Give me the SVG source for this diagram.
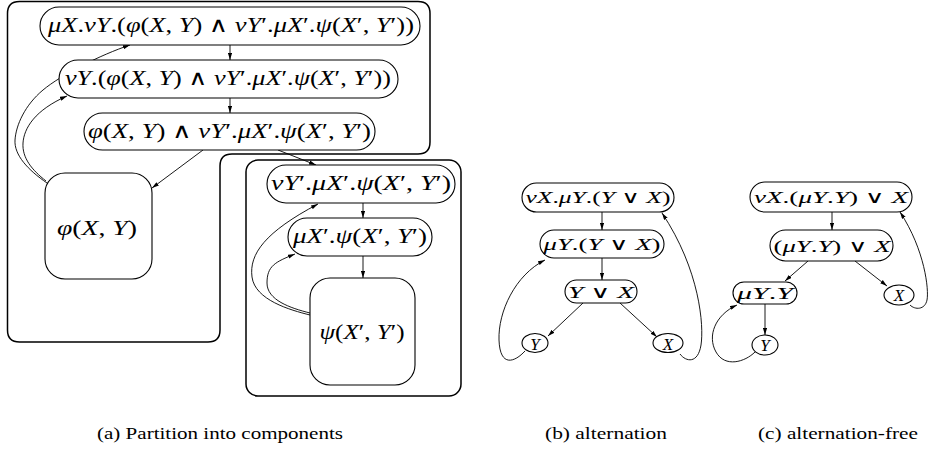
<svg xmlns="http://www.w3.org/2000/svg" width="928" height="455" viewBox="0 0 928 455">
<style>
.bg{fill:#fff}
.comp{fill:none;stroke:#000;stroke-width:1.5}
.nd{fill:#fff;stroke:#000;stroke-width:1.1}
.m{font-family:"Liberation Serif","DejaVu Serif",serif;fill:#000;text-anchor:middle}
.a{font-size:21px}
.b{font-size:17px}
.i{font-style:italic}
.cap{font-family:"Liberation Serif","DejaVu Serif",serif;font-size:17px;fill:#000;text-anchor:middle}
.e{fill:none;stroke:#000;stroke-width:0.9;marker-end:url(#ah)}
</style>
<defs>
<marker id="ah" viewBox="0 0 10 6" refX="10" refY="3" markerWidth="7" markerHeight="4.4" orient="auto" markerUnits="userSpaceOnUse"><path d="M0,0 L10,3 L0,6 z" fill="#000"/></marker>
</defs>
<rect class="bg" x="0" y="0" width="928" height="455"/>
<g id="componentA"><path class="comp" d="M19.5 1.5 H418 Q430 1.5 430 13.5 V142 Q430 154 418 154 H232 Q220 154 220 166 V330 Q220 342 208 342 H19.5 Q7.5 342 7.5 330 V13.5 Q7.5 1.5 19.5 1.5 Z"/></g>
<g id="componentB"><rect class="comp" x="246" y="160" width="215" height="236" rx="12"/></g>
<g id="edges">
<path class="e" d="M230 45 V60"/>
<path class="e" d="M230 98 V113"/>
<path class="e" d="M203 150 L152 188"/>
<path class="e" d="M278 150 L316 165"/>
<path class="e" d="M47 183 C28 170, 14 155, 15 140 S 25 105, 43 90 S 100 55, 130 45"/>
<path class="e" d="M46 181 C32 170, 22 158, 23 143 S 35 110, 67 96"/>
<path class="e" d="M363 203 V218"/>
<path class="e" d="M363 256 V278"/>
<path class="e" d="M310 315 C290 310, 255 300, 252 277 S 265 232, 318 204"/>
<path class="e" d="M310 313 C290 308, 267 300, 267 283 S 275 262, 295 254"/>
<path class="e" d="M602 212 V230"/>
<path class="e" d="M602 258 V280"/>
<path class="e" d="M583 303 L548 336"/>
<path class="e" d="M620 303 L657 337"/>
<path class="e" d="M525 351 C515 362, 500 368, 499 340 S 515 275, 545 260"/>
<path class="e" d="M680 354 C686 362, 698 364, 701 345 S 700 270, 662 213"/>
<path class="e" d="M832 212 V230"/>
<path class="e" d="M808 261 L785 281"/>
<path class="e" d="M855 261 L887 286"/>
<path class="e" d="M765 304 V335"/>
<path class="e" d="M755 352 C745 362, 725 368, 716 352 S 715 315, 737 305"/>
<path class="e" d="M910 305 C915 310, 925 310, 927 300 S 925 250, 900 212"/>
</g>
<g id="a1"><rect class="nd" x="40" y="7" width="380" height="38" rx="19"/><text class="m a" x="231" y="32" textLength="366" lengthAdjust="spacingAndGlyphs"><tspan class="i">μX</tspan>.<tspan class="i">νY</tspan>.(<tspan class="i">φ</tspan>(<tspan class="i">X</tspan>, <tspan class="i">Y</tspan>) ∧ <tspan class="i">νY</tspan>′.<tspan class="i">μX</tspan>′.<tspan class="i">ψ</tspan>(<tspan class="i">X</tspan>′, <tspan class="i">Y</tspan>′))</text></g>
<g id="a2"><rect class="nd" x="59" y="60" width="339" height="38" rx="19"/><text class="m a" x="228" y="85" textLength="326" lengthAdjust="spacingAndGlyphs"><tspan class="i">νY</tspan>.(<tspan class="i">φ</tspan>(<tspan class="i">X</tspan>, <tspan class="i">Y</tspan>) ∧ <tspan class="i">νY</tspan>′.<tspan class="i">μX</tspan>′.<tspan class="i">ψ</tspan>(<tspan class="i">X</tspan>′, <tspan class="i">Y</tspan>′))</text></g>
<g id="a3"><rect class="nd" x="84" y="113" width="291" height="37" rx="18.5"/><text class="m a" x="229.5" y="137.5" textLength="283" lengthAdjust="spacingAndGlyphs"><tspan class="i">φ</tspan>(<tspan class="i">X</tspan>, <tspan class="i">Y</tspan>) ∧ <tspan class="i">νY</tspan>′.<tspan class="i">μX</tspan>′.<tspan class="i">ψ</tspan>(<tspan class="i">X</tspan>′, <tspan class="i">Y</tspan>′)</text></g>
<g id="phi"><rect class="nd" x="45" y="173" width="107" height="106" rx="20"/><text class="m a" x="97" y="235" textLength="80" lengthAdjust="spacingAndGlyphs"><tspan class="i">φ</tspan>(<tspan class="i">X</tspan>, <tspan class="i">Y</tspan>)</text></g>
<g id="b1"><rect class="nd" x="267" y="165" width="188" height="38" rx="19"/><text class="m a" x="361" y="190" textLength="180" lengthAdjust="spacingAndGlyphs"><tspan class="i">νY</tspan>′.<tspan class="i">μX</tspan>′.<tspan class="i">ψ</tspan>(<tspan class="i">X</tspan>′, <tspan class="i">Y</tspan>′)</text></g>
<g id="b2"><rect class="nd" x="288" y="218" width="144" height="38" rx="19"/><text class="m a" x="360" y="243" textLength="134" lengthAdjust="spacingAndGlyphs"><tspan class="i">μX</tspan>′.<tspan class="i">ψ</tspan>(<tspan class="i">X</tspan>′, <tspan class="i">Y</tspan>′)</text></g>
<g id="psi"><rect class="nd" x="310" y="278" width="105" height="107" rx="20"/><text class="m a" x="362" y="339" textLength="85" lengthAdjust="spacingAndGlyphs"><tspan class="i">ψ</tspan>(<tspan class="i">X</tspan>′, <tspan class="i">Y</tspan>′)</text></g>
<g id="alt1"><rect class="nd" x="522" y="183" width="152" height="29" rx="14.5"/><text class="m b" x="598" y="203" textLength="145" lengthAdjust="spacingAndGlyphs"><tspan class="i">νX</tspan>.<tspan class="i">μY</tspan>.(<tspan class="i">Y</tspan> ∨ <tspan class="i">X</tspan>)</text></g>
<g id="alt2"><rect class="nd" x="540" y="230" width="124" height="28" rx="14"/><text class="m b" x="602" y="250" textLength="117" lengthAdjust="spacingAndGlyphs"><tspan class="i">μY</tspan>.(<tspan class="i">Y</tspan> ∨ <tspan class="i">X</tspan>)</text></g>
<g id="alt3"><rect class="nd" x="565" y="280" width="72" height="23" rx="11.5"/><text class="m b" x="601" y="297.5" textLength="66" lengthAdjust="spacingAndGlyphs"><tspan class="i">Y</tspan> ∨ <tspan class="i">X</tspan></text></g>
<g id="altY"><ellipse class="nd" cx="535" cy="343" rx="13" ry="9.5"/><text class="m b i" x="535" y="349.5">Y</text></g>
<g id="altX"><ellipse class="nd" cx="668" cy="343" rx="15" ry="9.5"/><text class="m b i" x="668" y="349.5">X</text></g>
<g id="free1"><rect class="nd" x="750" y="182" width="162" height="30" rx="15"/><text class="m b" x="831" y="203" textLength="154" lengthAdjust="spacingAndGlyphs"><tspan class="i">νX</tspan>.(<tspan class="i">μY</tspan>.<tspan class="i">Y</tspan>) ∨ <tspan class="i">X</tspan></text></g>
<g id="free2"><rect class="nd" x="770" y="230" width="123" height="31" rx="15.5"/><text class="m b" x="832" y="251.5" textLength="117" lengthAdjust="spacingAndGlyphs">(<tspan class="i">μY</tspan>.<tspan class="i">Y</tspan>) ∨ <tspan class="i">X</tspan></text></g>
<g id="free3"><rect class="nd" x="733" y="282" width="64" height="22" rx="11"/><text class="m b" x="765" y="299" textLength="56" lengthAdjust="spacingAndGlyphs"><tspan class="i">μY</tspan>.<tspan class="i">Y</tspan></text></g>
<g id="freeX"><ellipse class="nd" cx="899" cy="295" rx="15" ry="10"/><text class="m b i" x="899" y="301">X</text></g>
<g id="freeY"><ellipse class="nd" cx="765" cy="345" rx="13" ry="10"/><text class="m b i" x="765" y="351">Y</text></g>
<g id="captions">
<text class="cap" x="220" y="439" textLength="246" lengthAdjust="spacingAndGlyphs">(a) Partition into components</text>
<text class="cap" x="606" y="439" textLength="122" lengthAdjust="spacingAndGlyphs">(b) alternation</text>
<text class="cap" x="838" y="439" textLength="160" lengthAdjust="spacingAndGlyphs">(c) alternation-free</text>
</g>
</svg>
